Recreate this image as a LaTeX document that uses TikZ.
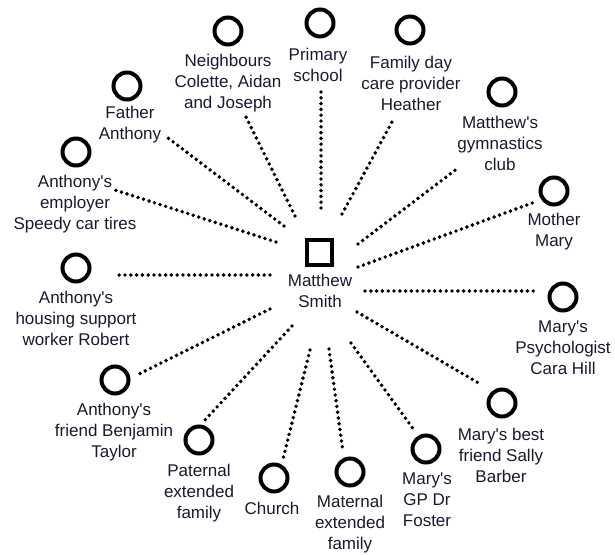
\documentclass[tikz,border=0pt]{standalone}
\usepackage{fontspec}
\setmainfont{Liberation Sans}
\newfontfamily\lblfont{Liberation Sans}
\definecolor{txt}{RGB}{25,25,45}
\begin{document}
\begin{tikzpicture}[x=1pt,y=-1pt,
  person/.style={circle,draw=black,line width=4pt,minimum size=27pt,inner sep=0pt},
  focus/.style={rectangle,draw=black,line width=4pt,minimum size=25pt,inner sep=0pt},
  lbl/.style={align=center,text=txt,font=\lblfont\fontsize{17}{21}\selectfont,inner sep=0pt},
  tie/.style={line width=3.9pt,line cap=round,dash pattern=on 0pt off 5.8pt}]
\useasboundingbox (0,0) rectangle (615,554);
% centre
\node[focus] (sq) at (319.5,252.5) {};
\node[lbl] (ms) at (320,291) {Matthew\\Smith};
% circles
\node[person] (c1) at (228,31) {};
\node[person] (c2) at (320,23) {};
\node[person] (c3) at (410,30) {};
\node[person] (c4) at (502,92) {};
\node[person] (c5) at (554,191) {};
\node[person] (c6) at (563,297) {};
\node[person] (c7) at (502,403) {};
\node[person] (c8) at (426,449) {};
\node[person] (c9) at (350,472) {};
\node[person] (c10) at (274,478) {};
\node[person] (c11) at (199,440) {};
\node[person] (c12) at (115,380) {};
\node[person] (c13) at (76,268) {};
\node[person] (c14) at (76,152) {};
\node[person] (c15) at (127,86) {};
% labels
\node[lbl] (l1) at (228,83) {Neighbours\\Colette, Aidan\\and Joseph};
\node[lbl] (l2) at (318,65) {Primary\\school};
\node[lbl] (l3) at (411,83) {Family day\\care provider\\Heather};
\node[lbl] (l4) at (500,143) {Matthew's\\gymnastics\\club};
\node[lbl] (l5) at (554,232) {Mother\\Mary};
\node[lbl] (l6) at (563,348) {Mary's\\Psychologist\\Cara Hill};
\node[lbl] (l7) at (501,455) {Mary's best\\friend Sally\\Barber};
\node[lbl] (l8) at (427,500) {Mary's\\GP Dr\\Foster};
\node[lbl] (l9) at (350,524) {Maternal\\extended\\family};
\node[lbl] (l10) at (272,508) {Church};
\node[lbl] (l11) at (199,493) {Paternal\\extended\\family};
\node[lbl] (l12) at (114,432) {Anthony's\\friend Benjamin\\Taylor};
\node[lbl] (l13) at (76,318) {Anthony's\\housing support\\worker Robert};
\node[lbl] (l14) at (75,204) {Anthony's\\employer\\Speedy car tires};
\node[lbl] (l15) at (130,125) {Father\\Anthony};
% connector ends
\coordinate (a1) at (295,216);  \coordinate (b1) at (245,115);
\coordinate (a2) at (321,208);  \coordinate (b2) at (321,92);
\coordinate (a3) at (342,214);  \coordinate (b3) at (392,122);
\coordinate (a4) at (358,244);  \coordinate (b4) at (458,168);
\coordinate (a5) at (358,267);  \coordinate (b5) at (535,202);
\coordinate (a6) at (365,291);  \coordinate (b6) at (537,291);
\coordinate (a7) at (357,312);  \coordinate (b7) at (482,385);
\coordinate (a8) at (351,343);  \coordinate (b8) at (414,430);
\coordinate (a9) at (329,349);  \coordinate (b9) at (343,452);
\coordinate (a10) at (310,350); \coordinate (b10) at (283,459);
\coordinate (a11) at (292,326); \coordinate (b11) at (205,420);
\coordinate (a12) at (270,309); \coordinate (b12) at (137,375);
\coordinate (a13) at (270,275); \coordinate (b13) at (115,275);
\coordinate (a14) at (276,242); \coordinate (b14) at (115,190);
\coordinate (a15) at (284,226); \coordinate (b15) at (168,138);
\foreach \i in {1,...,15} \draw[tie] (a\i) -- (b\i);
\end{tikzpicture}
\end{document}
